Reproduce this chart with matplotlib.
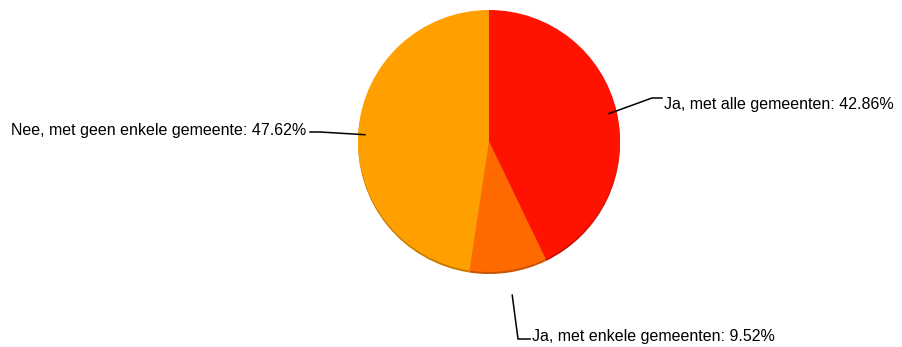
import numpy as np
import matplotlib
matplotlib.use("Agg")
import matplotlib.pyplot as plt

plt.rcParams['font.family'] = ['Liberation Sans', 'DejaVu Sans']

labels = ["Ja, met alle gemeenten", "Ja, met enkele gemeenten", "Nee, met geen enkele gemeente"]
values = [42.86, 9.52, 47.62]
colors = ["#FF1200", "#FF6A00", "#FFA000"]
shadow_colors = ["#C81000", "#C85200", "#C87A00"]

W, H = 903, 347
fig = plt.figure(figsize=(W / 100, H / 100), dpi=100)
ax = fig.add_axes([0, 0, 1, 1])

cx, cy, r = 489, H - 141, 131

# slight depth rim under the pie
ax.pie(values, colors=shadow_colors, startangle=90, counterclock=False,
       center=(cx, cy - 2.0), radius=r, frame=True,
       wedgeprops=dict(linewidth=0))
wedges, _ = ax.pie(values, colors=colors, startangle=90, counterclock=False,
                   center=(cx, cy), radius=r, frame=True,
                   wedgeprops=dict(linewidth=0))
ax.set_xlim(0, W)
ax.set_ylim(0, H)
ax.set_aspect('equal')
ax.axis('off')

# leader lines and labels
def edge(w, f=1.0):
    a = np.deg2rad((w.theta1 + w.theta2) / 2)
    return cx + f * r * np.cos(a), cy + f * r * np.sin(a)

txt_kw = dict(fontsize=11.5, color="#000000", va='center')

# red slice label
x0, y0 = edge(wedges[0], 0.94)
ax.plot([x0, 652, 662], [y0, H - 98, H - 98], color='black', lw=1.1)
ax.text(664, H - 104, f"{labels[0]}: {values[0]:.2f}%", ha='left', **txt_kw)

# dark orange slice label
x0, y0 = edge(wedges[1], 1.19)
ax.plot([x0, 518, 530], [y0, H - 339, H - 339], color='black', lw=1.1)
ax.text(532, H - 337, f"{labels[1]}: {values[1]:.2f}%", ha='left', **txt_kw)

# orange slice label
x0, y0 = edge(wedges[2], 0.95)
ax.plot([x0, 320, 310], [y0 - 3, H - 132, H - 132], color='black', lw=1.1)
ax.text(306, H - 130, f"{labels[2]}: {values[2]:.2f}%", ha='right', **txt_kw)

fig.savefig("out.png", dpi=100)
